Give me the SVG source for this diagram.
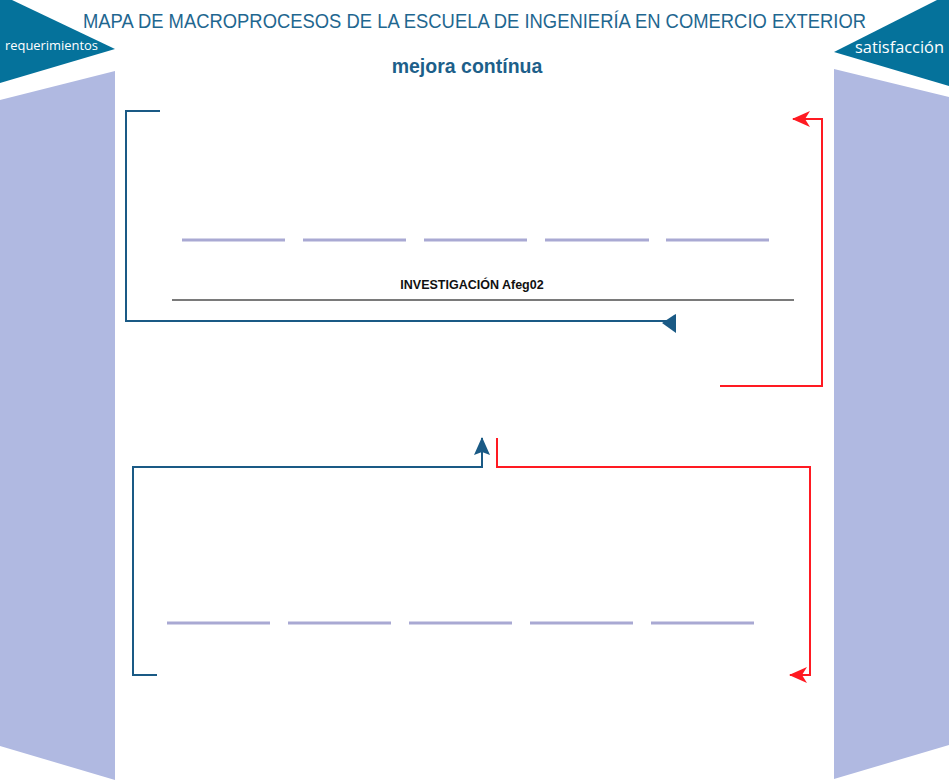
<svg xmlns="http://www.w3.org/2000/svg" width="949" height="780" viewBox="0 0 949 780">
<style>
.band{fill:#b0b9e1}
.tri{fill:#05729b}
.lbl{font-family:"Open Sans","Liberation Sans",sans-serif;fill:#ffffff;font-size:13.5px}
.title{font-family:"Liberation Sans",sans-serif;fill:#1f6790;font-size:19.5px}
.sub{font-family:"Liberation Sans",sans-serif;font-weight:bold;fill:#1d5f8a;font-size:19.5px}
.inv{font-family:"Liberation Sans",sans-serif;font-weight:bold;fill:#111;font-size:12.5px}
.dash{stroke:#a9a9d3;stroke-width:3;fill:none}
.blue{stroke:#1a5a85;stroke-width:2;fill:none}
.red{stroke:#ff1a22;stroke-width:2;fill:none}
</style>
<defs>
<marker id="ar" markerUnits="userSpaceOnUse" viewBox="0 0 18 16" markerWidth="18" markerHeight="16" refX="17" refY="8" orient="auto">
<path d="M0,0 L18,8 L0,16 L5,8 z" fill="#ff1a22"/>
</marker>
<marker id="ab" markerUnits="userSpaceOnUse" viewBox="0 0 18 16" markerWidth="18" markerHeight="16" refX="17" refY="8" orient="auto">
<path d="M0,0 L18,8 L0,16 L3,8 z" fill="#1a5a85"/>
</marker>
</defs>
<rect width="949" height="780" fill="#ffffff"/>
<g id="left-side">
<polygon class="tri" points="0,0 12,0 115,49 0,83"/>
<polygon class="band" points="0,100 115,71 115,780 0,746"/>
<text class="lbl" x="5" y="50" textLength="93" lengthAdjust="spacingAndGlyphs">requerimientos</text>
</g>
<g id="right-side">
<polygon class="tri" points="937,0 949,0 949,86 834,52"/>
<polygon class="band" points="834,69 949,97 949,745 834,779"/>
<text class="lbl" x="855" y="53" style="font-size:15.5px" textLength="89" lengthAdjust="spacingAndGlyphs">satisfacción</text>
</g>
<g id="title">
<text class="title" x="83" y="28" textLength="783" lengthAdjust="spacingAndGlyphs">MAPA DE MACROPROCESOS DE LA ESCUELA DE INGENIERÍA EN COMERCIO EXTERIOR</text>
<text class="sub" x="467" y="73" text-anchor="middle">mejora contínua</text>
</g>
<g id="upper-process">
<path class="dash" d="M182,240H285 M303,240H406 M424,240H527 M545,240H649 M666,240H769"/>
<text class="inv" x="472" y="289" text-anchor="middle">INVESTIGACIÓN Afeg02</text>
<line x1="172" y1="300" x2="794" y2="300" stroke="#7a7a7a" stroke-width="2"/>
</g>
<g id="lower-process">
<path class="dash" d="M167,623H270 M288,623H391 M409,623H512 M530,623H633 M651,623H754"/>
</g>
<g id="connectors">
<path class="blue" d="M160,111H126V321H670"/>
<polygon points="662,323 674,315 676,314 676,333" fill="#1a5a85"/>
<path class="red" d="M720,386H822V119H793" marker-end="url(#ar)"/>
<path class="blue" d="M157,675H133V467H482V438" marker-end="url(#ab)"/>
<path class="red" d="M497,438V467H810V675H790" marker-end="url(#ar)"/>
</g>
</svg>
